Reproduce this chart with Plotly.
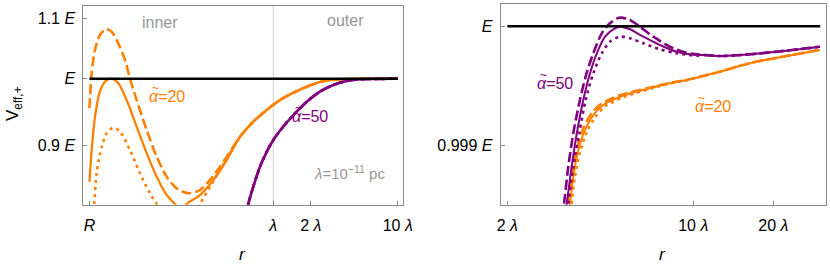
import plotly.graph_objects as go

# ---------------- data (r in units of lambda, V in units of E) ----------------
R = 0.0333          # inner radius R / lambda
LAM = 1.0           # lambda

# left panel, alpha~=20 (orange), inner parts of the three curves
L20_solid_x = [0.0333, 0.0347, 0.0369, 0.0404, 0.0452, 0.0502, 0.0568, 0.0663, 0.0798, 0.0960,
               0.1156, 0.139, 0.162, 0.182, 0.201, 0.2575, 0.330, 0.422]
L20_solid_y = [0.850, 0.8936, 0.9418, 0.9797, 0.9968, 1.000, 0.9928, 0.9669, 0.9271, 0.8893,
               0.8567, 0.8324, 0.8207, 0.812, 0.8207, 0.8324, 0.8524, 0.8796]
L20_dash_x = [0.0333, 0.0347, 0.0369, 0.0404, 0.0452, 0.0502, 0.0568, 0.0643, 0.0705, 0.0798,
              0.0960, 0.1156, 0.139, 0.167, 0.207, 0.2575, 0.310, 0.373, 0.477]
L20_dash_y = [0.9544, 1.0090, 1.0463, 1.0714, 1.0810, 1.0770, 1.0574, 1.0299, 1.000, 0.9669,
              0.9222, 0.8842, 0.8567, 0.8412, 0.8347, 0.8390, 0.8524, 0.8704, 0.8982]
L20_dot_x = [0.0333, 0.0364, 0.0380, 0.0418, 0.0458, 0.0518, 0.0586, 0.0705, 0.0848, 0.102,
             0.1156, 0.145, 0.18, 0.2575, 0.310, 0.373, 0.477]
L20_dot_y = [0.76, 0.8207, 0.8615, 0.8982, 0.9175, 0.9256, 0.9199, 0.8936, 0.8615, 0.8347,
             0.8207, 0.785, 0.77, 0.8207, 0.8432, 0.8659, 0.8966]
# common outer tail of the orange curves (left panel)
L20_tail_x = [0.54, 0.69, 0.885, 1.13, 1.45, 1.86, 2.37, 3.04, 4.14, 6.0, 10.0]
L20_tail_y = [0.9125, 0.9344, 0.9518, 0.9669, 0.9781, 0.9875, 0.9948, 0.9984, 0.9995, 0.9999, 1.0]

# left panel, alpha~=50 (purple)
L50_x = [0.60, 0.630, 0.690, 0.782, 0.885, 1.0, 1.20, 1.45, 1.86, 2.37, 3.04, 3.89, 4.98, 6.33, 10.0]
L50_y = [0.80, 0.8207, 0.8432, 0.8704, 0.8911, 0.9079, 0.9271, 0.9443, 0.9644, 0.9797, 0.9901,
         0.9964, 0.9991, 0.9995, 1.0]

# right panel, alpha~=50 (purple)
R50_dash_x = [3.20, 3.266, 3.39, 3.54, 3.75, 3.97, 4.21, 4.53, 4.86, 5.26, 5.70, 6.30, 7.08, 8.17, 9.45]
R50_dash_y = [0.9984, 0.998512, 0.998824, 0.999104, 0.999383, 0.999606, 0.999774, 0.999941, 1.000025,
              1.000072, 1.000059, 0.999997, 0.999913, 0.999829, 0.999779]
R50_solid_x = [3.28, 3.343, 3.49, 3.65, 3.86, 4.09, 4.34, 4.66, 5.0, 5.30, 5.78, 6.49, 7.50, 8.66, 10.3]
R50_solid_y = [0.9984, 0.998512, 0.998824, 0.999104, 0.999383, 0.999606, 0.999774, 0.999913, 0.999975,
               0.999997, 0.999975, 0.999913, 0.999843, 0.999787, 0.999760]
R50_dot_x = [3.33, 3.39, 3.54, 3.727, 3.94, 4.21, 4.53, 4.86, 5.30, 5.78, 6.49, 7.50, 8.66, 10.3]
R50_dot_y = [0.9984, 0.998512, 0.998824, 0.999104, 0.999383, 0.999606, 0.999774, 0.999871, 0.999913,
             0.999900, 0.999858, 0.999807, 0.999774, 0.999754]
R50_tail_x = [10.9, 12.6, 14.6, 16.8, 22.4, 29.9]
R50_tail_y = [0.999760, 0.999751, 0.999757, 0.999768, 0.999796, 0.999829]

# right panel, alpha~=20 (orange)
R20_solid_x = [3.38, 3.44, 3.54, 3.70, 3.92, 4.21, 4.59, 5.30, 6.12, 7.08, 8.17, 9.45]
R20_solid_y = [0.9984, 0.998512, 0.998740, 0.998964, 0.999132, 0.999257, 0.999341, 0.999410,
               0.999452, 0.999489, 0.999523, 0.999550]
R20_dash_x = [3.35, 3.41, 3.51, 3.66, 3.87, 4.15, 4.53, 5.26, 6.10, 7.08, 8.17, 9.45]
R20_dash_y = [0.9984, 0.998530, 0.998760, 0.998984, 0.999150, 0.999272, 0.999354, 0.999420,
              0.999460, 0.999494, 0.999526, 0.999552]
R20_dot_x = [3.42, 3.48, 3.58, 3.75, 3.98, 4.28, 4.66, 5.36, 6.15, 7.08, 8.17, 9.45]
R20_dot_y = [0.9984, 0.998500, 0.998722, 0.998945, 0.999114, 0.999240, 0.999328, 0.999400,
             0.999444, 0.999484, 0.999520, 0.999548]
R20_tail_x = [10.9, 12.6, 14.6, 16.8, 22.4, 29.9]
R20_tail_y = [0.999584, 0.999620, 0.999662, 0.999698, 0.999751, 0.999802]

# energy level lines
E_left_x = [R, 10.0]
E_right_x = [2.0, 30.0]
E_level = 1.0

# ticks
left_xticks = [R, 1.0, 2.0, 10.0]
left_xtext = ["<i>R</i>", "<i>λ</i>", "2 <i>λ</i>", "10 <i>λ</i>"]
left_yticks = [0.9, 1.0, 1.1]
left_ytext = ["0.9 <i>E</i>", "<i>E</i>", "1.1 <i>E</i>"]
right_xticks = [2.0, 10.0, 20.0]
right_xtext = ["2 <i>λ</i>", "10 <i>λ</i>", "20 <i>λ</i>"]
right_yticks = [0.999, 1.0]
right_ytext = ["0.999 <i>E</i>", "<i>E</i>"]

# ---------------- styling ----------------
ORANGE = "#FF8000"
PURPLE = "#800080"
GRAYTXT = "#969696"
FRAME = "#888888"
FONT = "Liberation Sans, Arial, sans-serif"
SOLID, DASH, DOT = "solid", "10px,4px", "3px,4px"
W, H = 830, 264

fig = go.Figure()


def add(x, y, color, dash, width, xa, ya, spline=True):
    fig.add_trace(go.Scatter(
        x=x, y=y, mode="lines", xaxis=xa, yaxis=ya, showlegend=False, hoverinfo="skip",
        line=dict(color=color, dash=dash, width=width,
                  shape="spline" if spline else "linear", smoothing=0.8)))


# left panel
add([LAM, LAM], [0.7, 1.2], "#d0d0d0", SOLID, 1, "x", "y", spline=False)
add(L20_dot_x + L20_tail_x, L20_dot_y + L20_tail_y, ORANGE, DOT, 2.6, "x", "y")
add(L20_dash_x + L20_tail_x, L20_dash_y + L20_tail_y, ORANGE, DASH, 2.6, "x", "y")
add(L20_solid_x + L20_tail_x, L20_solid_y + L20_tail_y, ORANGE, SOLID, 2.3, "x", "y")
for d in (DOT, DASH, SOLID):
    add(L50_x, L50_y, PURPLE, d, 2.6, "x", "y")
add(E_left_x, [E_level, E_level], "black", SOLID, 2.6, "x", "y", spline=False)

# right panel
add(R20_dot_x + R20_tail_x, R20_dot_y + R20_tail_y, ORANGE, DOT, 2.6, "x2", "y2")
add(R20_dash_x + R20_tail_x, R20_dash_y + R20_tail_y, ORANGE, DASH, 2.6, "x2", "y2")
add(R20_solid_x + R20_tail_x, R20_solid_y + R20_tail_y, ORANGE, SOLID, 2.0, "x2", "y2")
add(R50_dot_x + R50_tail_x, R50_dot_y + R50_tail_y, PURPLE, DOT, 2.6, "x2", "y2")
add(R50_dash_x + R50_tail_x, R50_dash_y + R50_tail_y, PURPLE, DASH, 2.6, "x2", "y2")
add(R50_solid_x + R50_tail_x, R50_solid_y + R50_tail_y, PURPLE, SOLID, 2.0, "x2", "y2")
add(E_right_x, [E_level, E_level], "black", SOLID, 2.6, "x2", "y2", spline=False)

axcommon = dict(showline=True, mirror=True, linecolor=FRAME, linewidth=1, ticks="inside",
                ticklen=4, tickcolor=FRAME, showgrid=False, zeroline=False, automargin=False,
                tickfont=dict(family=FONT, size=16, color="black"), tickmode="array")


def px(xp):
    return xp / W


def py(yp):
    return 1 - yp / H


fig.update_layout(
    width=W, height=H, margin=dict(l=0, r=0, t=0, b=0, autoexpand=False),
    paper_bgcolor="white", plot_bgcolor="white",
    font=dict(family=FONT),
    xaxis=dict(domain=[px(83.3), px(403.3)], type="log", range=[-1.527, 1.045],
               tickvals=left_xticks, ticktext=left_xtext, anchor="y", ticklabelstandoff=6, **axcommon),
    yaxis=dict(domain=[py(204.7), py(6)], type="log", range=[-0.0863, 0.0498],
               tickvals=left_yticks, ticktext=left_ytext, anchor="x", ticklabelstandoff=4, **axcommon),
    xaxis2=dict(domain=[px(500.7), px(825.7)], type="log", range=[0.2762, 1.4977],
                tickvals=right_xticks, ticktext=right_xtext, anchor="y2", ticklabelstandoff=6, **axcommon),
    yaxis2=dict(domain=[py(204.7), py(3.5)], range=[0.998506, 1.000191],
                tickvals=right_yticks, ticktext=right_ytext, anchor="x2", ticklabelstandoff=4, **axcommon),
)

# plain labels: (text, x px, y px, size, colour, angle)
ann = [
    ("inner", 160, 22.5, 16, GRAYTXT, 0),
    ("outer", 345.7, 20, 16, GRAYTXT, 0),
    ("<i>λ</i>=10<sup>−11</sup> pc", 349, 172, 15, GRAYTXT, 0),
    ("V<sub>eff,+</sub>", 14, 104, 17, "black", -90),
    ("<i>r</i>", 242, 254, 17, "black", 0),
    ("<i>r</i>", 662, 254, 17, "black", 0),
]
for text, xp, yp, size, color, ang in ann:
    fig.add_annotation(text=text, x=px(xp), y=py(yp), xref="paper", yref="paper",
                       showarrow=False, xanchor="center", yanchor="middle", textangle=ang,
                       font=dict(family=FONT, size=size, color=color))

# alpha-tilde labels: (value, left x px, digit-centre y px, colour)
alpha_labels = [
    ("20", 147, 96, ORANGE),
    ("50", 290, 116, PURPLE),
    ("50", 535, 83, PURPLE),
    ("20", 693, 106.5, ORANGE),
]
for val, xl, yc, color in alpha_labels:
    fig.add_annotation(text="<i>α</i>=" + val, x=px(xl), y=py(yc), xref="paper", yref="paper",
                       showarrow=False, xanchor="left", yanchor="middle",
                       font=dict(family=FONT, size=16, color=color))
    fig.add_annotation(text="~", x=px(xl + 8.5), y=py(yc - 8), xref="paper", yref="paper",
                       showarrow=False, xanchor="center", yanchor="middle",
                       font=dict(family=FONT, size=12, color=color))

fig.write_html("out.html", config={"displayModeBar": False},
               post_script="document.body.style.margin='0';")
